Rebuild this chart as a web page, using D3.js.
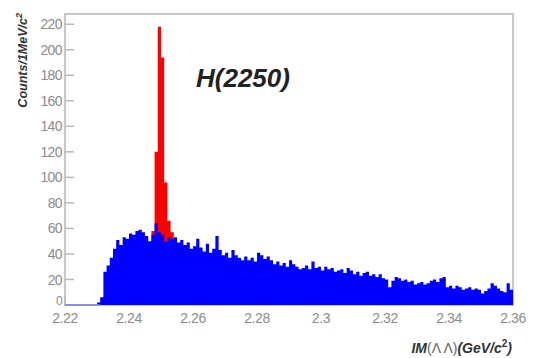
<!DOCTYPE html>
<html>
<head>
<meta charset="utf-8">
<script src="https://cdn.jsdelivr.net/npm/d3@7"></script>
<style>
	body { margin: 0; background: #fff; }
	svg { display: block; font-family: 'Liberation Sans', Arial, sans-serif; }
</style>
</head>
<body>
<svg id="chart" width="539" height="358"></svg>
<script>
// histogram of Λ Λ invariant mass, 1 MeV bins from 2.220 GeV
const binStart = 2.22;
const binWidth = 0.001;

const background = [
	0, 0, 0, 0, 0, 0, 0, 0, 0, 0,
	2, 6, 26, 31, 37, 44, 51, 47, 53, 52,
	56, 55, 58, 59, 57, 54, 50, 55, 64, 57,
	55, 50, 53, 52, 53, 49, 51, 47, 49, 44,
	46, 52, 45, 42, 48, 41, 44, 54, 43, 39,
	41, 37, 43, 39, 37, 35, 38, 35, 37, 34,
	41, 39, 36, 38, 35, 32, 34, 31, 33, 30,
	35, 32, 30, 28, 29, 31, 28, 34, 29, 30,
	27, 30, 28, 29, 26, 27, 28, 25, 29, 27,
	24, 26, 23, 25, 26, 23, 24, 22, 24, 21,
	20, 14, 19, 22, 21, 19, 20, 18, 19, 16,
	17, 18, 16, 17, 19, 20, 18, 21, 22, 14,
	15, 13, 15, 14, 12, 13, 14, 12, 13, 12,
	9, 11, 13, 17, 15, 13, 11, 10, 17, 12
];

// total counts in the H(2250) peak region (red), starting at bin 27
const peakFirstBin = 27;
const peakCounts = [58, 120, 218, 194, 96, 66, 57];

const xTicks = [2.22, 2.24, 2.26, 2.28, 2.3, 2.32, 2.34, 2.36];
const yTicks = [0, 20, 40, 60, 80, 100, 120, 140, 160, 180, 200, 220];

const svg = d3.select('#chart');

const x = d3.scaleLinear().domain([2.22, 2.36]).range([65, 513]);
const y = d3.scaleLinear().domain([0, 228]).range([305, 14]);

const toBins = (counts, first) => {
	const bins = counts.map((c, i) => ({ lo: binStart + (first + i) * binWidth, c }));
	bins.push({ lo: binStart + (first + counts.length) * binWidth, c: counts[counts.length - 1] });
	return bins;
};

const area = d3.area()
	.curve(d3.curveStepAfter)
	.x(d => x(d.lo))
	.y0(y(0))
	.y1(d => y(d.c));

// frame
svg.append('rect')
	.attr('x', x(2.22))
	.attr('y', y(228))
	.attr('width', x(2.36) - x(2.22))
	.attr('height', y(0) - y(228))
	.attr('fill', 'none')
	.attr('stroke', '#c8c8c8')
	.attr('stroke-width', 2);

// y ticks
const yAxis = svg.append('g').attr('transform', `translate(${x(2.22)},0)`);
yAxis.selectAll('line')
	.data(yTicks)
	.enter()
	.append('line')
	.attr('x1', 0)
	.attr('x2', 9)
	.attr('y1', d => y(d))
	.attr('y2', d => y(d))
	.attr('stroke', '#b8b8b8')
	.attr('stroke-width', 1.5);

yAxis.selectAll('text')
	.data(yTicks)
	.enter()
	.append('text')
	.attr('x', -3)
	.attr('y', d => y(d) - (d === 0 ? 4 : 0))
	.attr('dy', '0.36em')
	.attr('text-anchor', 'end')
	.attr('font-size', d => d === 0 ? 12 : 14)
	.attr('letter-spacing', -0.6)
	.attr('fill', '#8c8c8c')
	.text(d => d);

// x ticks
const xAxis = svg.append('g').attr('transform', `translate(0,${y(0)})`);
xAxis.selectAll('line')
	.data(xTicks)
	.enter()
	.append('line')
	.attr('x1', d => x(d))
	.attr('x2', d => x(d))
	.attr('y1', 0)
	.attr('y2', -8)
	.attr('stroke', '#b8b8b8')
	.attr('stroke-width', 1.5);

xAxis.selectAll('text')
	.data(xTicks)
	.enter()
	.append('text')
	.attr('x', d => x(d))
	.attr('y', 18)
	.attr('text-anchor', 'middle')
	.attr('font-size', 14)
	.attr('letter-spacing', -0.4)
	.attr('fill', '#8c8c8c')
	.text(d => d);

// histograms: peak (red) underneath, background (blue) on top
svg.append('path')
	.datum(toBins(peakCounts, peakFirstBin))
	.attr('d', area)
	.attr('fill', '#ff0000');

svg.append('path')
	.datum(toBins(background, 0))
	.attr('d', area)
	.attr('fill', '#0000ff');

svg.append('line')
	.attr('x1', x(2.22))
	.attr('x2', x(2.231))
	.attr('y1', y(0))
	.attr('y2', y(0))
	.attr('stroke', '#7c7cf4')
	.attr('stroke-width', 1.5);

// labels
svg.append('text')
	.attr('transform', 'translate(27,13) rotate(-90)')
	.attr('text-anchor', 'end')
	.attr('font-size', 12.5)
	.attr('font-weight', 'bold')
	.attr('font-style', 'italic')
	.attr('fill', '#333')
	.html('Counts/1MeV/c<tspan dy="-5" font-size="9">2</tspan>');

const xTitle = svg.append('text')
	.attr('x', 512)
	.attr('y', 353)
	.attr('text-anchor', 'end')
	.attr('font-size', 14)
	.attr('fill', '#333');
xTitle.append('tspan').attr('font-weight', 'bold').attr('font-style', 'italic').text('IM');
xTitle.append('tspan').attr('fill', '#666').text('(Λ Λ)');
xTitle.append('tspan').attr('font-weight', 'bold').attr('font-style', 'italic').text('(GeV/c');
xTitle.append('tspan').attr('dy', -6).attr('font-size', 10).attr('font-weight', 'bold').text('2');
xTitle.append('tspan').attr('dy', 6).attr('font-weight', 'bold').attr('font-style', 'italic').text(')');

svg.append('text')
	.attr('x', 196)
	.attr('y', 87)
	.attr('font-size', 26)
	.attr('font-weight', 'bold')
	.attr('font-style', 'italic')
	.attr('fill', '#222')
	.text('H(2250)');
</script>
</body>
</html>
